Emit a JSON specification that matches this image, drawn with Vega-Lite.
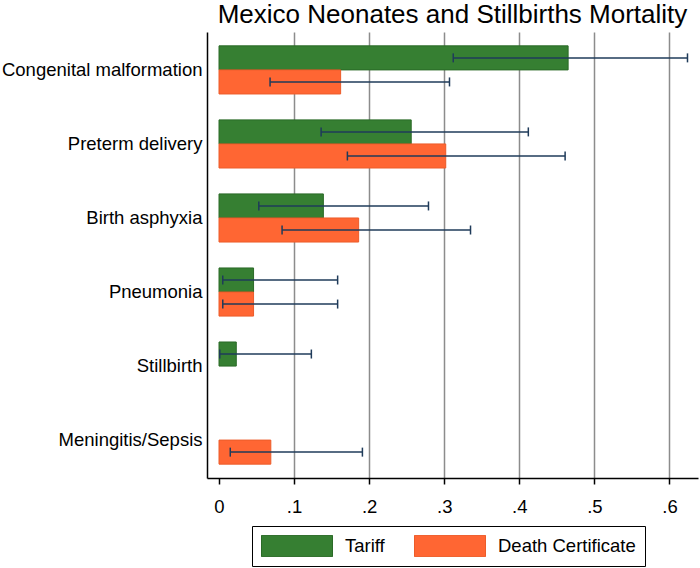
{
  "$schema": "https://vega.github.io/schema/vega-lite/v6.json",
  "autosize": "none",
  "padding": {"left": 207, "top": 32, "right": 2, "bottom": 90},
  "width": 491,
  "height": 446,
  "background": "white",
  "title": {
    "text": "Mexico Neonates and Stillbirths Mortality",
    "font": "Liberation Sans",
    "fontSize": 26,
    "fontWeight": "normal",
    "color": "black",
    "anchor": "middle",
    "offset": 4
  },
  "data": {
    "values": [
      {"cause": "Congenital malformation", "source": "Tariff", "value": 0.465, "lo": 0.312, "hi": 0.624},
      {"cause": "Congenital malformation", "source": "Death Certificate", "value": 0.162, "lo": 0.068, "hi": 0.307},
      {"cause": "Preterm delivery", "source": "Tariff", "value": 0.256, "lo": 0.136, "hi": 0.412},
      {"cause": "Preterm delivery", "source": "Death Certificate", "value": 0.302, "lo": 0.171, "hi": 0.461},
      {"cause": "Birth asphyxia", "source": "Tariff", "value": 0.139, "lo": 0.053, "hi": 0.279},
      {"cause": "Birth asphyxia", "source": "Death Certificate", "value": 0.186, "lo": 0.084, "hi": 0.335},
      {"cause": "Pneumonia", "source": "Tariff", "value": 0.046, "lo": 0.005, "hi": 0.158},
      {"cause": "Pneumonia", "source": "Death Certificate", "value": 0.046, "lo": 0.005, "hi": 0.158},
      {"cause": "Stillbirth", "source": "Tariff", "value": 0.023, "lo": 0.001, "hi": 0.123},
      {"cause": "Meningitis/Sepsis", "source": "Death Certificate", "value": 0.069, "lo": 0.015, "hi": 0.191}
    ]
  },
  "encoding": {
    "y": {
      "field": "cause",
      "type": "nominal",
      "sort": ["Congenital malformation", "Preterm delivery", "Birth asphyxia", "Pneumonia", "Stillbirth", "Meningitis/Sepsis"],
      "scale": {"paddingInner": 0.35, "paddingOuter": 0.187},
      "axis": {
        "title": null,
        "ticks": false,
        "grid": false,
        "domainColor": "black",
        "domainWidth": 1.5,
        "labelFont": "Liberation Sans",
        "labelFontSize": 18.5,
        "labelColor": "black",
        "labelPadding": 5,
        "labelLimit": 300
      }
    },
    "yOffset": {
      "field": "source",
      "type": "nominal",
      "sort": ["Tariff", "Death Certificate"],
      "scale": {"paddingInner": 0, "paddingOuter": 0}
    }
  },
  "layer": [
    {
      "mark": {"type": "bar", "strokeWidth": 1},
      "encoding": {
        "x": {
          "field": "value",
          "type": "quantitative",
          "scale": {"domain": [-0.016, 0.638], "nice": false, "zero": false},
          "axis": {
            "title": null,
            "values": [0, 0.1, 0.2, 0.3, 0.4, 0.5, 0.6],
            "labelExpr": "datum.value == 0 ? '0' : replace(format(datum.value, '.1f'), '0.', '.')",
            "grid": true,
            "gridColor": "#8c8c8c",
            "gridWidth": 1.5,
            "gridOpacity": {"condition": {"test": "datum.value == 0", "value": 0}, "value": 1},
            "domainColor": "black",
            "domainWidth": 1.5,
            "tickColor": "black",
            "tickWidth": 1.5,
            "tickSize": 6,
            "labelFont": "Liberation Sans",
            "labelFontSize": 18.5,
            "labelColor": "black",
            "labelPadding": 13
          }
        },
        "x2": {"datum": 0},
        "color": {
          "field": "source",
          "type": "nominal",
          "sort": ["Tariff", "Death Certificate"],
          "scale": {"domain": ["Tariff", "Death Certificate"], "range": ["#367f32", "#ff6633"]},
          "legend": {
            "title": null,
            "orient": "none",
            "legendX": 45,
            "legendY": 494,
            "direction": "horizontal",
            "padding": 9,
            "strokeColor": "black",
            "fillColor": "white",
            "symbolType": "M-1,-0.3H1V0.3H-1Z",
            "symbolSize": 5041,
            "symbolStrokeWidth": 1,
            "symbolOpacity": 1,
            "labelFont": "Liberation Sans",
            "labelFontSize": 18.5,
            "labelColor": "black",
            "labelOffset": 12,
            "labelLimit": 300,
            "columnPadding": 29,
            "clipHeight": 22
          }
        },
        "stroke": {
          "field": "source",
          "type": "nominal",
          "scale": {"domain": ["Tariff", "Death Certificate"], "range": ["#2a6a27", "#ec5c2a"]},
          "legend": null
        }
      }
    },
    {
      "mark": {"type": "rule", "color": "#1f3b5a", "strokeWidth": 1.5},
      "encoding": {
        "x": {"field": "lo", "type": "quantitative"},
        "x2": {"field": "hi"}
      }
    },
    {
      "mark": {"type": "point", "shape": "M0,-1L0,1", "size": 81, "filled": false, "color": "#1f3b5a", "strokeWidth": 1.5, "opacity": 1},
      "encoding": {"x": {"field": "lo", "type": "quantitative"}}
    },
    {
      "mark": {"type": "point", "shape": "M0,-1L0,1", "size": 81, "filled": false, "color": "#1f3b5a", "strokeWidth": 1.5, "opacity": 1},
      "encoding": {"x": {"field": "hi", "type": "quantitative"}}
    }
  ],
  "config": {
    "view": {"stroke": null}
  }
}
